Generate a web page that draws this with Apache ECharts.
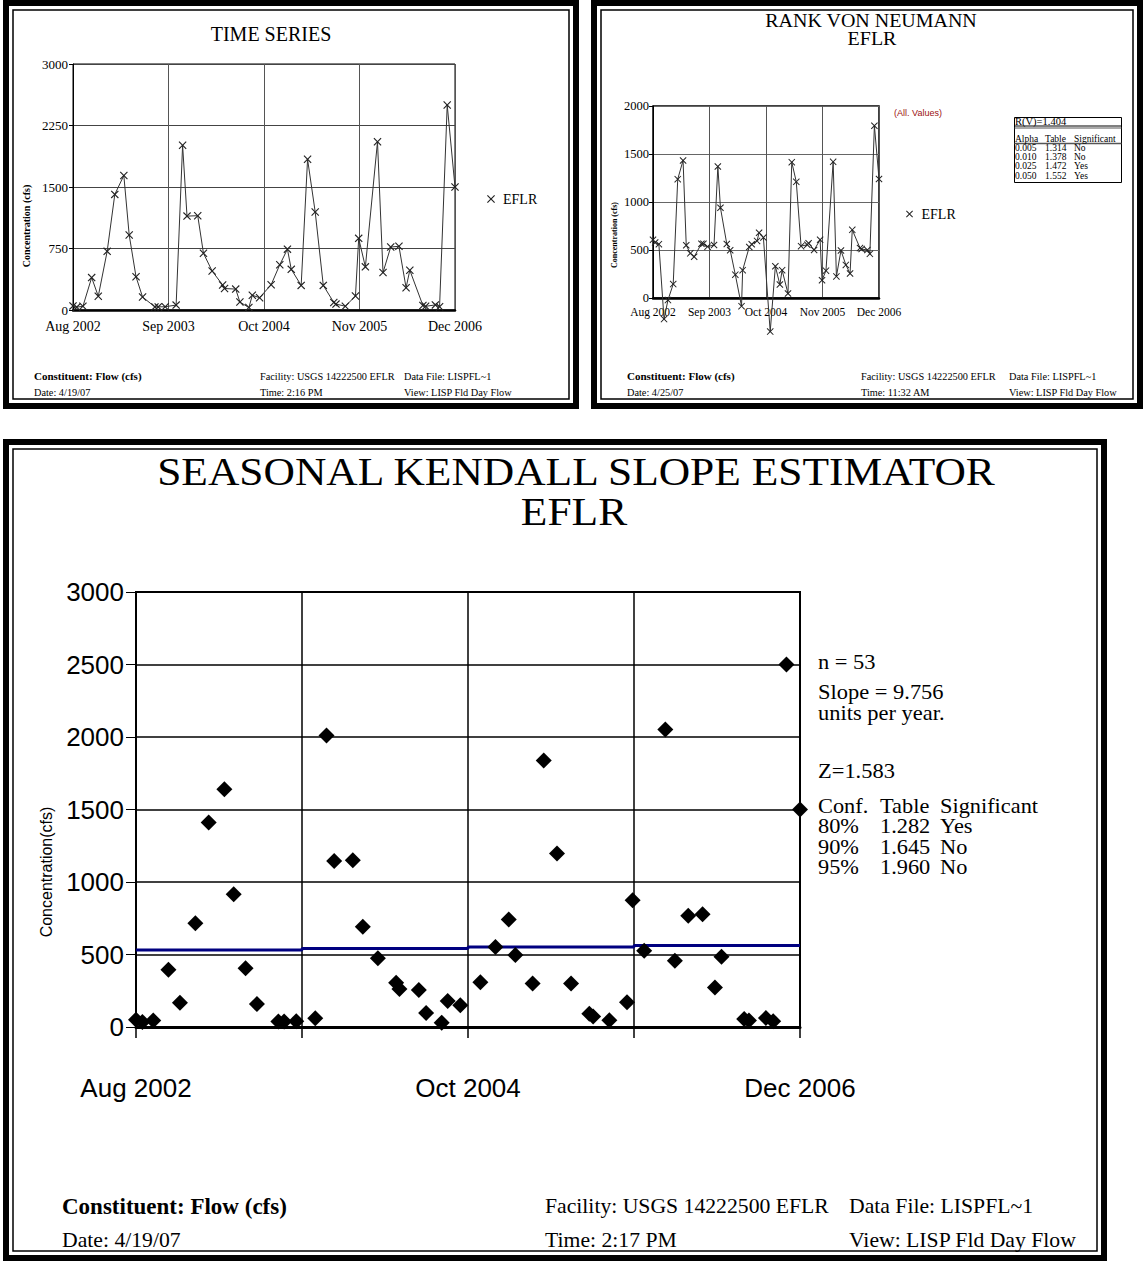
<!DOCTYPE html>
<html>
<head>
<meta charset="utf-8">
<script src="https://cdn.jsdelivr.net/npm/echarts@6/dist/echarts.min.js"></script>
<style>
html,body{margin:0;padding:0;background:#fff;}
#c{width:1143px;height:1261px;}
</style>
</head>
<body>
<div id="c"></div>
<script>
// ---------- DATA ----------
// x-axis tick labels (one every 13 months)
const dateLabels = ['Aug 2002', 'Sep 2003', 'Oct 2004', 'Nov 2005', 'Dec 2006'];
// sample dates, expressed as months after Aug 2002
const sampleMonths = [0, 0.5, 1.35, 2.54, 3.44, 4.65, 5.69, 6.92, 7.65, 8.58, 9.47, 11.15, 11.6, 12.55,
  14.04, 14.92, 15.52, 16.98, 17.76, 18.94, 20.37, 20.63, 22.15, 22.72, 23.94, 24.41, 25.4,
  26.97, 28.15, 29.19, 29.71, 31.06, 31.93, 32.97, 34.07, 35.5, 35.8, 37.07, 38.45, 38.89, 39.8,
  41.45, 42.2, 43.25, 44.37, 45.34, 45.85, 47.63, 48.0, 49.33, 49.9, 50.94, 52.0];
// EFLR flow (cfs)
const flowCfs = [50, 35, 45, 395, 168, 715, 1410, 1640, 915, 405, 158, 38, 38, 40,
  60, 2010, 1145, 1150, 692, 475, 305, 262, 255, 97, 30, 180, 150,
  308, 552, 742, 496, 300, 1838, 1196, 300, 92, 72, 46, 170, 874, 526,
  2051, 457, 768, 777, 272, 485, 55, 45, 62, 40, 2500, 1500];
// Rank von Neumann plotted values
const rankValues = [606, 578, 561, -220, -22, 145, 1238, 1433, 550, 465, 430, 565, 565, 535,
  552, 1370, 940, 562, 498, 243, -85, 290, 532, 560, 595, 680, 630,
  -350, 330, 140, 290, 47, 1415, 1210, 540, 555, 570, 500, 607, 185, 285,
  1418, 225, 495, 345, 255, 710, 520, 510, 500, 460, 1795, 1240];
// seasonal Kendall trend level in each 13-month block
const trendLevels = [531, 541, 552, 562];
// significance tables
const alphaTable = {alpha: ['0.005', '0.010', '0.025', '0.050'], table: ['1.314', '1.378', '1.472', '1.552'], sig: ['No', 'No', 'Yes', 'Yes']};
const confTable = {conf: ['80%', '90%', '95%'], table: ['1.282', '1.645', '1.960'], sig: ['Yes', 'No', 'No']};

// ---------- CHART ----------
const SERIF = "'Liberation Serif','Times New Roman',serif";
const SANS = "'Liberation Sans',Arial,sans-serif";
const XPATH = 'path://M0,1L1,0L5,4L9,0L10,1L6,5L10,9L9,10L5,6L1,10L0,9L4,5Z';

const tsData = sampleMonths.map((m, i) => [m, flowCfs[i]]);
const rankData = sampleMonths.map((m, i) => [m, rankValues[i]]);
const trendData = [];
trendLevels.forEach((v, i) => { trendData.push([i * 13, v]); trendData.push([(i + 1) * 13, v]); });

const chart = echarts.init(document.getElementById('c'), null, {renderer: 'svg', width: 1143, height: 1261});

function txt(text, x, y, font, opt) {
  opt = opt || {};
  const al = opt.align || 'left', va = opt.va || 'middle';
  const st = {text: text, font: font, fill: opt.fill || '#000', align: al, verticalAlign: va,
      textAlign: al, textVerticalAlign: va};
  if (opt.lh) st.lineHeight = opt.lh;
  const el = {type: 'text', x: x, y: y, rotation: opt.rot || 0, silent: true, z: 100, style: st};
  if (opt.sx) el.scaleX = opt.sx;
  return el;
}
function frame(x0, y0, x1, y1) {
  return [
    {type: 'rect', silent: true, z: 90, shape: {x: x0 + 3, y: y0 + 3, width: x1 - x0 - 6, height: y1 - y0 - 6},
      style: {fill: 'none', stroke: '#000', lineWidth: 6}},
    {type: 'rect', silent: true, z: 90, shape: {x: x0 + 10, y: y0 + 10, width: x1 - x0 - 20, height: y1 - y0 - 20},
      style: {fill: 'none', stroke: '#000', lineWidth: 1.5}}
  ];
}
function footer(x1, x2, x3, yA, yB, size, bsize, date, time) {
  const f = size + 'px ' + SERIF;
  return [
    txt('Constituent: Flow (cfs)', x1, yA, 'bold ' + bsize + 'px ' + SERIF),
    txt('Date: ' + date, x1, yB, f),
    txt('Facility: USGS 14222500 EFLR', x2, yA, f),
    txt('Time: ' + time, x2, yB, f),
    txt('Data File: LISPFL~1', x3, yA, f),
    txt('View: LISP Fld Day Flow', x3, yB, f)
  ];
}

const bF = '9.5px ' + SERIF, bLH = 9.25, bTop = 138.5 - bLH / 2;
const cF = '20.5px ' + SERIF, cLH = 20.5, cTop = 806 - cLH / 2;

const graphics = [].concat(
  frame(3, 0, 579, 409), frame(591, 0, 1143, 409), frame(3, 439, 1107, 1261),
  // panel A
  [txt('TIME SERIES', 271, 34, '20px ' + SERIF, {align: 'center'}),
   txt('Concentration (cfs)', 26, 226, 'bold 10px ' + SERIF, {align: 'center', rot: Math.PI / 2})],
  footer(34, 260, 404, 376, 392, 10.3, 11, '4/19/07', '2:16 PM'),
  // panel B
  [txt('RANK VON NEUMANN', 871, 21, '18px ' + SERIF, {align: 'center', sx: 1.11}),
   txt('EFLR', 872, 39, '18px ' + SERIF, {align: 'center', sx: 1.11}),
   txt('Concentration (cfs)', 614, 235, 'bold 8px ' + SERIF, {align: 'center', rot: Math.PI / 2}),
   txt('(All. Values)', 918, 113, '9px ' + SANS, {align: 'center', fill: '#9b1010'}),
   {type: 'rect', silent: true, z: 95, shape: {x: 1014.5, y: 117.5, width: 107, height: 65},
     style: {fill: 'none', stroke: '#000', lineWidth: 1}},
   {type: 'line', silent: true, z: 95, shape: {x1: 1014.5, y1: 126, x2: 1121.5, y2: 126}, style: {stroke: '#000', lineWidth: 1}},
   {type: 'line', silent: true, z: 95, shape: {x1: 1014.5, y1: 128, x2: 1121.5, y2: 128}, style: {stroke: '#555', lineWidth: 1}},
   {type: 'line', silent: true, z: 95, shape: {x1: 1014.5, y1: 143.5, x2: 1121.5, y2: 143.5}, style: {stroke: '#555', lineWidth: 1.5}},
   txt('R(V)=1.404', 1015, 121.5, '10.5px ' + SERIF),
   txt(['Alpha'].concat(alphaTable.alpha).join('\n'), 1015, bTop, bF, {va: 'top', lh: bLH}),
   txt(['Table'].concat(alphaTable.table).join('\n'), 1045, bTop, bF, {va: 'top', lh: bLH}),
   txt(['Significant'].concat(alphaTable.sig).join('\n'), 1074, bTop, bF, {va: 'top', lh: bLH})],
  footer(627, 861, 1009, 376, 392, 10.3, 11, '4/25/07', '11:32 AM'),
  // panel C
  [txt('SEASONAL KENDALL SLOPE ESTIMATOR', 576, 472, '40px ' + SERIF, {align: 'center', sx: 1.087}),
   txt('EFLR', 574, 512, '40px ' + SERIF, {align: 'center', sx: 1.087}),
   txt('Concentration(cfs)', 46, 872, '16px ' + SANS, {align: 'center', rot: Math.PI / 2}),
   txt('n = 53', 818, 662, '21px ' + SERIF, {sx: 1.07}),
   txt('Slope = 9.756\nunits per year.', 818, 692 - 10.5, '21px ' + SERIF, {va: 'top', lh: 21, sx: 1.07}),
   txt('Z=1.583', 818, 771, '21px ' + SERIF, {sx: 1.07}),
   txt(['Conf.'].concat(confTable.conf).join('\n'), 818, cTop, cF, {va: 'top', lh: cLH, sx: 1.09}),
   txt(['Table'].concat(confTable.table).join('\n'), 880, cTop, cF, {va: 'top', lh: cLH, sx: 1.09}),
   txt(['Significant'].concat(confTable.sig).join('\n'), 940, cTop, cF, {va: 'top', lh: cLH, sx: 1.09})],
  footer(62, 545, 849, 1206, 1240, 21.7, 23, '4/19/07', '2:17 PM')
);

function xAxisCfg(gi, o) {
  return {
    type: 'value', gridIndex: gi, min: 0, max: 52, interval: 13,
    axisLine: {show: true, onZero: false, lineStyle: {color: '#000', width: o.axisW}},
    axisTick: {show: o.tick > 0, length: o.tick, inside: false, lineStyle: {color: '#000', width: o.gridW}},
    splitLine: {show: true, showMinLine: false, showMaxLine: true, lineStyle: {color: o.gridC, width: o.gridW}},
    axisLabel: {show: true, margin: o.margin, color: '#000', fontFamily: o.fam, fontSize: o.size,
      formatter: function (v) { const k = Math.round(v / 13); return o.only ? (o.only.indexOf(k) >= 0 ? dateLabels[k] : '') : dateLabels[k]; }}
  };
}
function yAxisCfg(gi, max, interval, o) {
  return {
    type: 'value', gridIndex: gi, min: 0, max: max, interval: interval,
    axisLine: {show: true, lineStyle: {color: '#000', width: o.axisW}},
    axisTick: {show: true, length: o.tick, lineStyle: {color: '#000', width: 1}},
    splitLine: {show: true, showMinLine: false, showMaxLine: true, lineStyle: {color: o.gridC, width: o.gridW}},
    axisLabel: {show: true, margin: o.margin, color: '#000', fontFamily: o.fam, fontSize: o.size,
      formatter: function (v) { return String(v); }}
  };
}

const option = {
  animation: false,
  backgroundColor: '#fff',
  grid: [
    {left: 73, top: 64, width: 382, height: 246, show: true, borderColor: '#000', borderWidth: 1, backgroundColor: 'transparent'},
    {left: 653, top: 106, width: 226, height: 192, show: true, borderColor: '#000', borderWidth: 1.5, backgroundColor: 'transparent'},
    {left: 136, top: 592, width: 664, height: 435, show: true, borderColor: '#000', borderWidth: 2, backgroundColor: 'transparent'}
  ],
  xAxis: [
    xAxisCfg(0, {axisW: 2.5, tick: 0, gridC: '#555', gridW: 1, margin: 9, fam: SERIF, size: 14}),
    xAxisCfg(1, {axisW: 2.5, tick: 0, gridC: '#555', gridW: 1, margin: 8, fam: SERIF, size: 11.5}),
    xAxisCfg(2, {axisW: 3, tick: 11, gridC: '#000', gridW: 1.5, margin: 48, fam: SANS, size: 26, only: [0, 2, 4]})
  ],
  yAxis: [
    yAxisCfg(0, 3000, 750, {axisW: 1, tick: 4, gridC: '#444', gridW: 1, margin: 5, fam: SERIF, size: 13}),
    yAxisCfg(1, 2000, 500, {axisW: 1, tick: 4, gridC: '#666', gridW: 1, margin: 4, fam: SERIF, size: 12.5}),
    yAxisCfg(2, 3000, 500, {axisW: 1.5, tick: 10, gridC: '#000', gridW: 1.5, margin: 12, fam: SANS, size: 26})
  ],
  legend: [
    {data: ['EFLR'], left: 487, top: 192, padding: 0, itemWidth: 14, itemHeight: 8, icon: XPATH, selectedMode: false,
      textStyle: {fontFamily: SERIF, fontSize: 14, color: '#000'}},
    {data: ['EFLR'], left: 906, top: 207, padding: 0, itemWidth: 14, itemHeight: 7, icon: XPATH, selectedMode: false,
      textStyle: {fontFamily: SERIF, fontSize: 14, color: '#000'}}
  ],
  series: [
    {type: 'line', name: 'EFLR', xAxisIndex: 0, yAxisIndex: 0, data: tsData, clip: false,
      symbol: XPATH, symbolSize: 8, showAllSymbol: true,
      lineStyle: {color: '#333', width: 1}, itemStyle: {color: '#222', opacity: 1}},
    {type: 'line', name: 'EFLR', xAxisIndex: 1, yAxisIndex: 1, data: rankData, clip: false,
      symbol: XPATH, symbolSize: 7, showAllSymbol: true,
      lineStyle: {color: '#333', width: 1}, itemStyle: {color: '#222', opacity: 1}},
    {type: 'line', name: 'trend', xAxisIndex: 2, yAxisIndex: 2, data: trendData, symbol: 'none',
      lineStyle: {color: '#000080', width: 3}, z: 3},
    {type: 'scatter', name: 'flow', xAxisIndex: 2, yAxisIndex: 2, data: tsData, clip: false,
      symbol: 'diamond', symbolSize: 16, itemStyle: {color: '#000', opacity: 1}, z: 4}
  ],
  graphic: graphics
};
chart.setOption(option);
</script>
</body>
</html>
